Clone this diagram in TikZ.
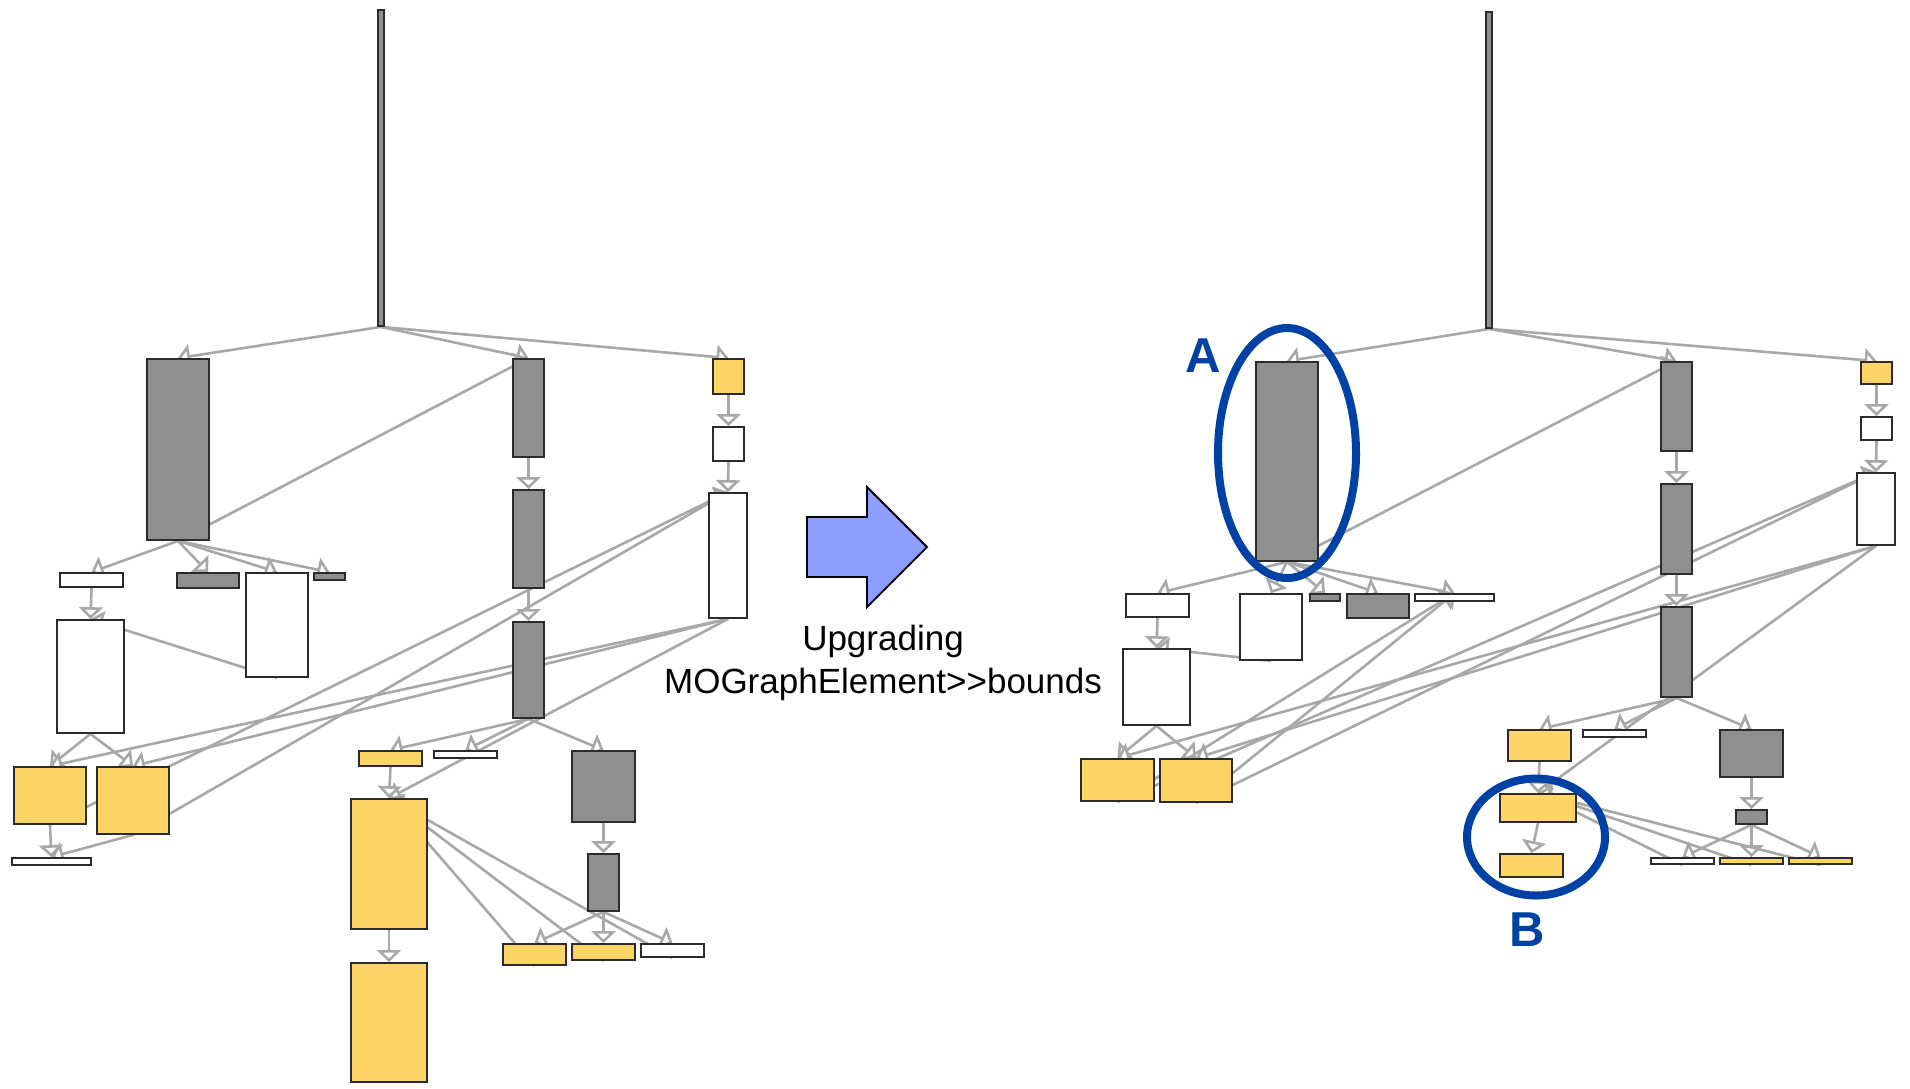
\documentclass[tikz,border=0pt]{standalone}
\usepackage{fontspec}
\setmainfont{Liberation Sans}
\usepackage{tikz}
\usetikzlibrary{arrows.meta, shapes.geometric, positioning, fit, backgrounds}
\definecolor{boxgrey}{HTML}{8F8F8F}
\definecolor{boxgold}{HTML}{FDD466}
\definecolor{boxline}{HTML}{2B2B2B}
\definecolor{edgegrey}{HTML}{A8A8A8}
\definecolor{ringblue}{HTML}{0041A5}
\definecolor{arrowblue}{HTML}{8E9EFF}
\tikzstyle{greybox} = [rectangle, draw=boxline, fill=boxgrey, line width=0.9pt, inner sep=0pt]
\tikzstyle{whitebox} = [rectangle, draw=boxline, fill=white, line width=0.9pt, inner sep=0pt]
\tikzstyle{goldbox} = [rectangle, draw=boxline, fill=boxgold, line width=0.9pt, inner sep=0pt]
\tikzstyle{edge} = [draw=edgegrey, line width=1.3pt, -{Triangle[width=12pt,length=6pt,fill=white]}]
\tikzstyle{ring} = [ellipse, draw=ringblue, line width=4pt, inner sep=0pt]
\tikzstyle{tag} = [font=\fontsize{24.5}{24.5}\selectfont\bfseries, text=ringblue]

\begin{document}
\begin{tikzpicture}[x=0.5pt, y=-0.5pt]
\useasboundingbox (0,0) rectangle (1910,1088);

% before the upgrade
\node (lroot) [greybox, fit={(378,10) (384,326)}] {};
\node (lbig) [greybox, fit={(147,359) (209,540)}] {};
\node (lw1) [whitebox, fit={(60,573) (123,587)}] {};
\node (lg2) [greybox, fit={(177,573) (239,588)}] {};
\node (lw2) [whitebox, fit={(246,573) (308,677)}] {};
\node (lg3) [greybox, fit={(314,573) (345,580)}] {};
\node (lw3) [whitebox, fit={(57,620) (124,733)}] {};
\node (ly1) [goldbox, fit={(14,767) (86,824)}] {};
\node (ly2) [goldbox, fit={(97,767) (169,834)}] {};
\node (lw4) [whitebox, fit={(12,858) (91,865)}] {};
\node (lc1) [greybox, fit={(513,359) (544,457)}] {};
\node (lc2) [greybox, fit={(513,490) (544,588)}] {};
\node (lc3) [greybox, fit={(513,622) (544,718)}] {};
\node (lya) [goldbox, fit={(713,359) (744,394)}] {};
\node (lwa) [whitebox, fit={(713,427) (744,461)}] {};
\node (lwb) [whitebox, fit={(709,493) (747,618)}] {};
\node (lyb) [goldbox, fit={(359,751) (422,766)}] {};
\node (lwc) [whitebox, fit={(434,751) (497,758)}] {};
\node (lg4) [greybox, fit={(572,751) (635,822)}] {};
\node (lg5) [greybox, fit={(588,854) (619,911)}] {};
\node (lyc) [goldbox, fit={(351,799) (427,929)}] {};
\node (lyd) [goldbox, fit={(351,963) (427,1082)}] {};
\node (lye) [goldbox, fit={(503,944) (566,965)}] {};
\node (lyf) [goldbox, fit={(572,944) (635,960)}] {};
\node (lwd) [whitebox, fit={(641,944) (704,957)}] {};

% after the upgrade
\node (rroot) [greybox, fit={(1486,12) (1492,328)}] {};
\node (rbig) [greybox, fit={(1256,362) (1318,561)}] {};
\node (rw1) [whitebox, fit={(1126,594) (1189,617)}] {};
\node (rw2) [whitebox, fit={(1240,594) (1302,660)}] {};
\node (rg3) [greybox, fit={(1310,594) (1340,601)}] {};
\node (rg2) [greybox, fit={(1347,594) (1409,618)}] {};
\node (rw4) [whitebox, fit={(1415,594) (1494,601)}] {};
\node (rw3) [whitebox, fit={(1123,649) (1190,725)}] {};
\node (ry1) [goldbox, fit={(1081,759) (1154,801)}] {};
\node (ry2) [goldbox, fit={(1160,759) (1232,802)}] {};
\node (rc1) [greybox, fit={(1661,362) (1692,451)}] {};
\node (rc2) [greybox, fit={(1661,484) (1692,574)}] {};
\node (rc3) [greybox, fit={(1661,607) (1692,697)}] {};
\node (rya) [goldbox, fit={(1861,362) (1892,384)}] {};
\node (rwa) [whitebox, fit={(1861,417) (1892,440)}] {};
\node (rwb) [whitebox, fit={(1857,473) (1895,545)}] {};
\node (ryb) [goldbox, fit={(1508,730) (1571,761)}] {};
\node (rwc) [whitebox, fit={(1583,730) (1646,737)}] {};
\node (rg4) [greybox, fit={(1720,730) (1783,777)}] {};
\node (rg5) [greybox, fit={(1736,810) (1767,824)}] {};
\node (ryc) [goldbox, fit={(1500,794) (1576,822)}] {};
\node (ryd) [goldbox, fit={(1500,854) (1563,877)}] {};
\node (rwd) [whitebox, fit={(1651,858) (1714,864)}] {};
\node (rye) [goldbox, fit={(1720,858) (1783,864)}] {};
\node (ryf) [goldbox, fit={(1789,858) (1852,864)}] {};

% Edges (behind the boxes)
\begin{scope}[on background layer]
\draw [edge] (lroot.south) -- (lbig.north);
\draw [edge] (lroot.south) -- (lc1.north);
\draw [edge] (lroot.south) -- (lya.north);
\draw [edge] (lbig.south) -- (lw1.north);
\draw [edge] (lbig.south) -- (lg2.north);
\draw [edge] (lbig.south) -- (lw2.north);
\draw [edge] (lbig.south) -- (lg3.north);
\draw [edge] (lbig.south) -- (lc1.north);
\draw [edge] (lw1.south) -- (lw3.north);
\draw [edge] (lw2.south) -- (lw3.north);
\draw [edge] (lw3.south) -- (ly1.north);
\draw [edge] (lw3.south) -- (ly2.north);
\draw [edge] (ly1.south) -- (lw4.north);
\draw [edge] (ly2.south) -- (lw4.north);
\draw [edge] (ly1.south) -- (lwb.north);
\draw [edge] (ly2.south) -- (lwb.north);
\draw [edge] (lwb.south) -- (ly1.north);
\draw [edge] (lwb.south) -- (ly2.north);
\draw [edge] (lwb.south) -- (lyc.north);
\draw [edge] (lc1.south) -- (lc2.north);
\draw [edge] (lc2.south) -- (lc3.north);
\draw [edge] (lc3.south) -- (lyb.north);
\draw [edge] (lc3.south) -- (lwc.north);
\draw [edge] (lc3.south) -- (lg4.north);
\draw [edge] (lya.south) -- (lwa.north);
\draw [edge] (lwa.south) -- (lwb.north);
\draw [edge] (lyb.south) -- (lyc.north);
\draw [edge] (lyc.south) -- (lyd.north);
\draw [edge] (lg4.south) -- (lg5.north);
\draw [edge] (lg5.south) -- (lye.north);
\draw [edge] (lg5.south) -- (lyf.north);
\draw [edge] (lg5.south) -- (lwd.north);
\draw [edge] (lye.south) -- (lyc.north);
\draw [edge] (lyf.south) -- (lyc.north);
\draw [edge] (lwd.south) -- (lyc.north);

\draw [edge] (rroot.south) -- (rbig.north);
\draw [edge] (rroot.south) -- (rc1.north);
\draw [edge] (rroot.south) -- (rya.north);
\draw [edge] (rbig.south) -- (rw1.north);
\draw [edge] (rbig.south) -- (rw2.north);
\draw [edge] (rbig.south) -- (rg3.north);
\draw [edge] (rbig.south) -- (rg2.north);
\draw [edge] (rbig.south) -- (rw4.north);
\draw [edge] (rbig.south) -- (rc1.north);
\draw [edge] (rw1.south) -- (rw3.north);
\draw [edge] (rw2.south) -- (rw3.north);
\draw [edge] (rw3.south) -- (ry1.north);
\draw [edge] (rw3.south) -- (ry2.north);
\draw [edge] (ry1.south) -- (rw4.north);
\draw [edge] (ry2.south) -- (rw4.north);
\draw [edge] (ry1.south) -- (rwb.north);
\draw [edge] (ry2.south) -- (rwb.north);
\draw [edge] (rwb.south) -- (ry1.north);
\draw [edge] (rwb.south) -- (ry2.north);
\draw [edge] (rwb.south) -- (ryc.north);
\draw [edge] (rc1.south) -- (rc2.north);
\draw [edge] (rc2.south) -- (rc3.north);
\draw [edge] (rc3.south) -- (ryb.north);
\draw [edge] (rc3.south) -- (rwc.north);
\draw [edge] (rc3.south) -- (rg4.north);
\draw [edge] (rya.south) -- (rwa.north);
\draw [edge] (rwa.south) -- (rwb.north);
\draw [edge] (ryb.south) -- (ryc.north);
\draw [edge] (ryc.south) -- (ryd.north);
\draw [edge] (rg4.south) -- (rg5.north);
\draw [edge] (rg5.south) -- (rwd.north);
\draw [edge] (rg5.south) -- (rye.north);
\draw [edge] (rg5.south) -- (ryf.north);
\draw [edge] (rwd.south) -- (ryc.north);
\draw [edge] (rye.south) -- (ryc.north);
\draw [edge] (ryf.south) -- (ryc.north);
\end{scope}

% Upgrade arrow and caption
\draw [fill=arrowblue, draw=black, line width=0.9pt, line join=miter]
  (807,517) -- (867,517) -- (867,487) -- (927,547) -- (867,607) -- (867,577) -- (807,577) -- cycle;
\node (upg1) [anchor=base, font=\fontsize{17.5}{21.5}\selectfont] at (883,650) {Upgrading};
\node (upg2) [anchor=base, font=\fontsize{17.5}{21.5}\selectfont] at (883,693) {MOGraphElement\mbox{>}\mbox{>}bounds};

% Highlights
\node (ringA) [ring, minimum width=69pt, minimum height=125pt] at (1287,453) {};
\node (ringB) [ring, minimum width=69pt, minimum height=58.5pt] at (1536,837) {};
\node (tagA) [tag] at (1203,356) {A};
\node (tagB) [tag] at (1527,930) {B};

\end{tikzpicture}
\end{document}
